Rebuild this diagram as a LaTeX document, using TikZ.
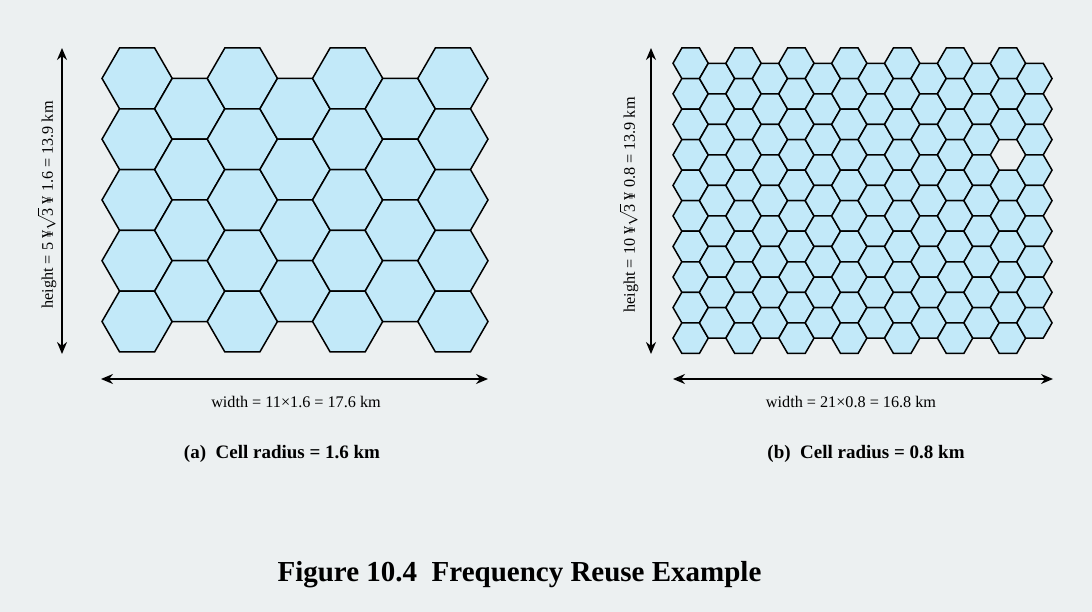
\documentclass[tikz,border=0pt]{standalone}
\usepackage{fontspec}
\setmainfont{Liberation Serif}
\usetikzlibrary{arrows.meta}
\definecolor{bgc}{HTML}{ECF0F1}
\definecolor{cellc}{HTML}{C2E9F9}
\tikzset{
  hexcell/.style={draw=black, fill=cellc, line width=1.5pt, line join=miter},
  dimarrow/.style={line width=1.5pt, {Stealth[length=12pt,width=10pt]}-{Stealth[length=12pt,width=10pt]}},
  dimlabel/.style={font=\fontsize{16.2}{18}\selectfont, inner sep=0pt},
  caption/.style={font=\fontsize{19}{22}\selectfont\bfseries, inner sep=0pt},
  titletext/.style={font=\fontsize{29}{34}\selectfont\bfseries, inner sep=0pt}
}
\begin{document}
\begin{tikzpicture}[x=1pt,y=-1pt]
\fill[bgc] (0,0) rectangle (1092,612);
\useasboundingbox (0,0) rectangle (1092,612);
% ---- left panel, R = 35.1
\def\RA{35.09}
\foreach \c in {0,...,6}{
  \pgfmathsetmacro{\cx}{102+\RA+\c*1.5*\RA}
  \pgfmathtruncatemacro{\odd}{mod(\c,2)}
  \pgfmathtruncatemacro{\nr}{\odd==1 ? 3 : 4}
  \foreach \r in {0,...,\nr}{
    \pgfmathsetmacro{\cy}{48+0.866025*\RA*(1+\odd)+\r*1.732051*\RA}
    \draw[hexcell] (\cx,\cy) +(0:\RA) -- +(60:\RA) -- +(120:\RA) -- +(180:\RA) -- +(240:\RA) -- +(300:\RA) -- cycle;
  }
}
% ---- right panel, R = 17.63
\def\RB{17.63}
\foreach \c in {0,...,13}{
  \pgfmathsetmacro{\cx}{673+\RB+\c*1.5*\RB}
  \pgfmathtruncatemacro{\odd}{mod(\c,2)}
  \pgfmathtruncatemacro{\nr}{\odd==1 ? 8 : 9}
  \foreach \r in {0,...,\nr}{
    \pgfmathtruncatemacro{\skip}{(\c==12 && \r==3) ? 1 : 0}
    \ifnum\skip=0
    \pgfmathsetmacro{\cy}{48+0.866025*\RB*(1+\odd)+\r*1.732051*\RB}
    \draw[hexcell] (\cx,\cy) +(0:\RB) -- +(60:\RB) -- +(120:\RB) -- +(180:\RB) -- +(240:\RB) -- +(300:\RB) -- cycle;
    \fi
  }
}
% ---- dimension arrows
\coordinate (lvt) at (62,48);
\coordinate (lvb) at (62,354);
\coordinate (lhl) at (101,379);
\coordinate (lhr) at (488,379);
\coordinate (rvt) at (651,48);
\coordinate (rvb) at (651,354);
\coordinate (rhl) at (673,379);
\coordinate (rhr) at (1053,379);
\draw[dimarrow] (lvt) -- (lvb);
\draw[dimarrow] (lhl) -- (lhr);
\draw[dimarrow] (rvt) -- (rvb);
\draw[dimarrow] (rhl) -- (rhr);
% ---- labels
\node[dimlabel, rotate=90] (lh) at (47,205) {height = 5 ¥\(\sqrt{\mbox{3}}\) ¥ 1.6 = 13.9 km};
\node[dimlabel, rotate=90] (rh) at (629,205) {height = 10 ¥\(\sqrt{\mbox{3}}\) ¥ 0.8 = 13.9 km};
\node[dimlabel] (lw) at (296,402) {width = 11×1.6 = 17.6 km};
\node[dimlabel] (rw) at (851,402) {width = 21×0.8 = 16.8 km};
\node[caption] (ca) at (282,454) {(a)\ \ Cell radius = 1.6 km};
\node[caption] (cb) at (866,454) {(b)\ \ Cell radius = 0.8 km};
\node[titletext] (title) at (519.5,575) {Figure 10.4\ \ Frequency Reuse Example};
\end{tikzpicture}
\end{document}
